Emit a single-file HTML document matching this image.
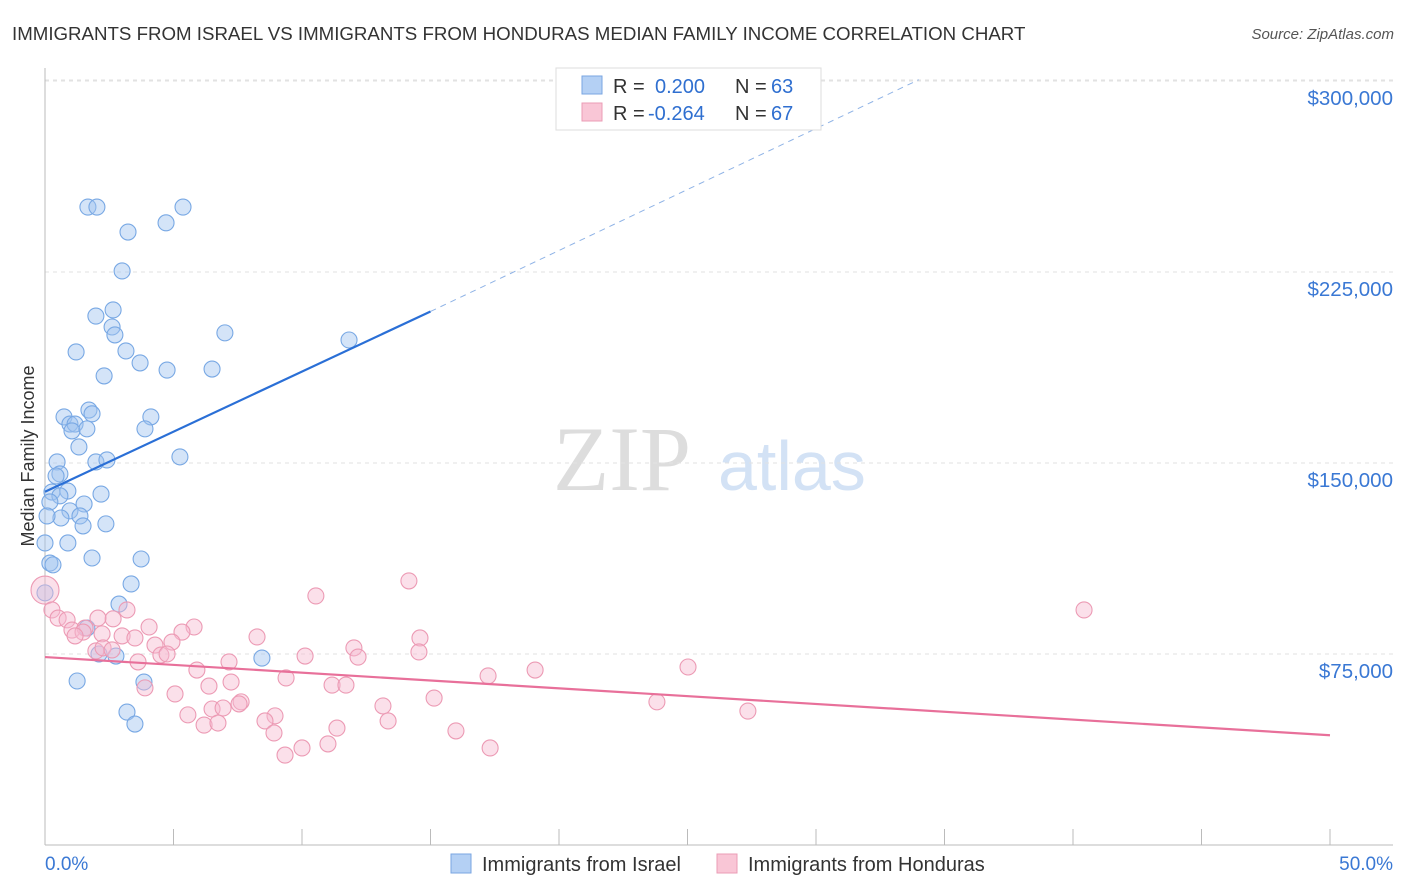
<!DOCTYPE html>
<html><head><meta charset="utf-8"><style>
body{margin:0;background:#fff;font-family:"Liberation Sans",sans-serif;}
svg{display:block}
</style></head><body>
<svg id="chart" width="1406" height="892" viewBox="0 0 1406 892" xmlns="http://www.w3.org/2000/svg">
<text x="12" y="40" font-size="18.7" fill="#333">IMMIGRANTS FROM ISRAEL VS IMMIGRANTS FROM HONDURAS MEDIAN FAMILY INCOME CORRELATION CHART</text>
<text x="1394" y="39" font-size="15" fill="#555" text-anchor="end" font-style="italic">Source: ZipAtlas.com</text>
<g>
<text x="553" y="490" font-family="Liberation Serif,serif" font-size="92" fill="#ddd">ZIP</text>
<text x="718" y="490" font-size="70" fill="#d3e2f5">atlas</text>
</g>
<g id="grid"></g><g id="axes"></g><g id="pts"></g><g id="lines"></g>
<text transform="translate(34,456) rotate(-90)" font-size="18" fill="#333" text-anchor="middle">Median Family Income</text>
<g>
<rect x="556" y="68" width="265" height="62" fill="#fff" stroke="#ddd"/>
<rect x="582" y="76" width="20" height="18" fill="#b4d0f4" stroke="#7aa6e2"/>
<rect x="582" y="103" width="20" height="18" fill="#f9c6d6" stroke="#eb9cb6"/>
<text x="613" y="93" font-size="20" fill="#333">R =</text><text x="655" y="93" font-size="20" fill="#2f6fd0">0.200</text>
<text x="735" y="93" font-size="20" fill="#333">N =</text><text x="771" y="93" font-size="20" fill="#2f6fd0">63</text>
<text x="613" y="120" font-size="20" fill="#333">R =</text><text x="648" y="120" font-size="20" fill="#2f6fd0">-0.264</text>
<text x="735" y="120" font-size="20" fill="#333">N =</text><text x="771" y="120" font-size="20" fill="#2f6fd0">67</text>
</g>
<g>
<rect x="451" y="854" width="20" height="19" fill="#b4d0f4" stroke="#7aa6e2"/>
<text x="482" y="871" font-size="20" fill="#333">Immigrants from Israel</text>
<rect x="717" y="854" width="20" height="19" fill="#f9c6d6" stroke="#eb9cb6"/>
<text x="748" y="871" font-size="20" fill="#333">Immigrants from Honduras</text>
</g>
<text x="45" y="870" font-size="19" fill="#3a78d4">0.0%</text>
<text x="1393" y="870" font-size="19" fill="#3a78d4" text-anchor="end">50.0%</text>
</svg>
<script>
const yTicks=[75000,150000,225000,300000];
const yTickLabels=["$75,000","$150,000","$225,000","$300,000"];
const israelX=[1.67,2.02,5.37,4.71,3.23,3.00,2.65,1.98,2.61,2.72,7.00,11.83,1.21,3.15,3.70,4.75,6.50,2.30,1.71,0.74,1.83,4.12,0.97,1.17,1.05,1.63,3.89,1.32,5.25,0.47,1.98,2.41,0.58,0.43,0.27,0.89,2.18,0.58,0.19,1.52,0.97,1.36,0.62,0.08,2.37,1.48,0.89,0,1.83,3.74,0.19,0.31,3.35,0,2.88,1.63,2.10,2.76,8.44,1.25,3.85,3.19,3.50];
const israelY=[250.5,250.5,250.5,244.3,240.7,225.4,210.1,207.7,203.4,200.3,201.1,198.3,193.6,194.0,189.3,186.5,186.9,184.2,170.8,168.1,169.3,168.1,165.3,165.3,162.6,163.4,163.4,156.3,152.4,150.4,150.4,151.2,145.7,144.9,138.6,139.0,137.8,137.1,134.7,133.9,131.2,129.2,128.4,129.2,126.1,125.3,118.6,118.6,112.7,112.3,110.7,110.0,102.5,99.0,94.6,85.2,75.0,74.2,73.4,64.4,64.0,52.2,47.5];
const hondX=[0,0.27,0.51,0.86,1.05,1.56,1.48,1.17,2.22,2.65,3.19,4.05,3.00,3.50,5.80,5.33,4.94,4.28,8.25,10.54,14.16,14.59,12.02,12.18,10.12,14.55,4.51,4.75,1.98,2.26,3.62,5.91,7.16,9.38,6.38,11.17,11.71,3.89,5.06,7.24,15.14,17.24,19.07,25.02,23.81,27.35,40.43,7.63,7.55,6.50,6.93,13.15,5.56,8.95,8.56,6.19,6.73,11.36,13.35,15.99,8.91,10.00,11.01,9.34,17.32,2.06,2.61];
const hondY=[100.1,92.3,89.1,88.4,84.4,85.2,83.6,82.1,82.9,88.8,92.3,85.6,82.1,81.3,85.6,83.6,79.7,78.5,81.7,97.8,103.7,81.3,77.4,73.8,74.2,75.8,74.6,75.0,76.2,77.4,71.9,68.7,71.9,65.6,62.4,62.8,62.8,61.7,59.3,64.0,57.7,66.4,68.7,69.9,56.2,52.6,92.3,56.2,55.4,53.4,53.8,54.6,51.1,50.7,48.7,47.1,47.9,45.9,48.7,44.8,44.0,38.1,39.7,35.3,38.1,89.1,76.6];
const israelTrend=[[0,138.7],[15,209.5]];
const israelTrendDash=[[15,209.5],[34,300.5]];
const hondTrend=[[0,73.8],[50,43.1]];
const NS="http://www.w3.org/2000/svg";
const X=v=>45+v/50*1285;
const Y=k=>845-k*1000/75000*191;
function mk(tag,attrs,parent){const e=document.createElementNS(NS,tag);for(const k in attrs)e.setAttribute(k,attrs[k]);document.getElementById(parent).appendChild(e);return e;}
yTicks.forEach((t,i)=>{
 const g=mk('line',{x1:45,x2:1393,y1:Y(t/1000),y2:Y(t/1000),stroke:'#e2e2e2','stroke-dasharray':'4,4'},'grid');
 
 
 const tx=mk('text',{x:1393,y:Y(t/1000)+24,'font-size':20.5,fill:'#3a78d4','text-anchor':'end'},'axes');
 tx.textContent=yTickLabels[i];
 
 
});
const tg=mk('line',{x1:45,x2:1393,y1:80,y2:80,stroke:'#e2e2e2','stroke-dasharray':'4,4'},'grid');


const ax=mk('line',{x1:45,x2:1393,y1:845,y2:845,stroke:'#bbb'},'axes');


const ay=mk('line',{x1:45,x2:45,y1:68,y2:845,stroke:'#bbb'},'axes');


for(let i=0;i<=10;i++){const t=mk('line',{x1:X(i*5),x2:X(i*5),y1:829,y2:845,stroke:'#bbb'},'axes');
 
 }
israelX.forEach((x,i)=>{const c=mk('circle',{cx:X(x),cy:Y(israelY[i]),r:8,fill:'rgba(160,196,240,0.45)',stroke:'#78a8e4','stroke-width':1.1},'pts');
 
 });
hondX.forEach((x,i)=>{const c=mk('circle',{cx:X(x),cy:Y(hondY[i]),r:i==0?14:8,fill:'rgba(246,186,208,0.45)',stroke:'#ec9ab4','stroke-width':1.1},'pts');
 
 });
const l1=mk('line',{x1:X(israelTrend[0][0]),y1:Y(israelTrend[0][1]),x2:X(israelTrend[1][0]),y2:Y(israelTrend[1][1]),stroke:'#2a6fd6','stroke-width':2.2},'lines');


const l2=mk('line',{x1:X(israelTrendDash[0][0]),y1:Y(israelTrendDash[0][1]),x2:X(israelTrendDash[1][0]),y2:Y(israelTrendDash[1][1]),stroke:'#8fb3e6','stroke-width':1,'stroke-dasharray':'6,5'},'lines');


const l3=mk('line',{x1:X(hondTrend[0][0]),y1:Y(hondTrend[0][1]),x2:X(hondTrend[1][0]),y2:Y(hondTrend[1][1]),stroke:'#e8709a','stroke-width':2.2},'lines');


</script>
</body></html>
